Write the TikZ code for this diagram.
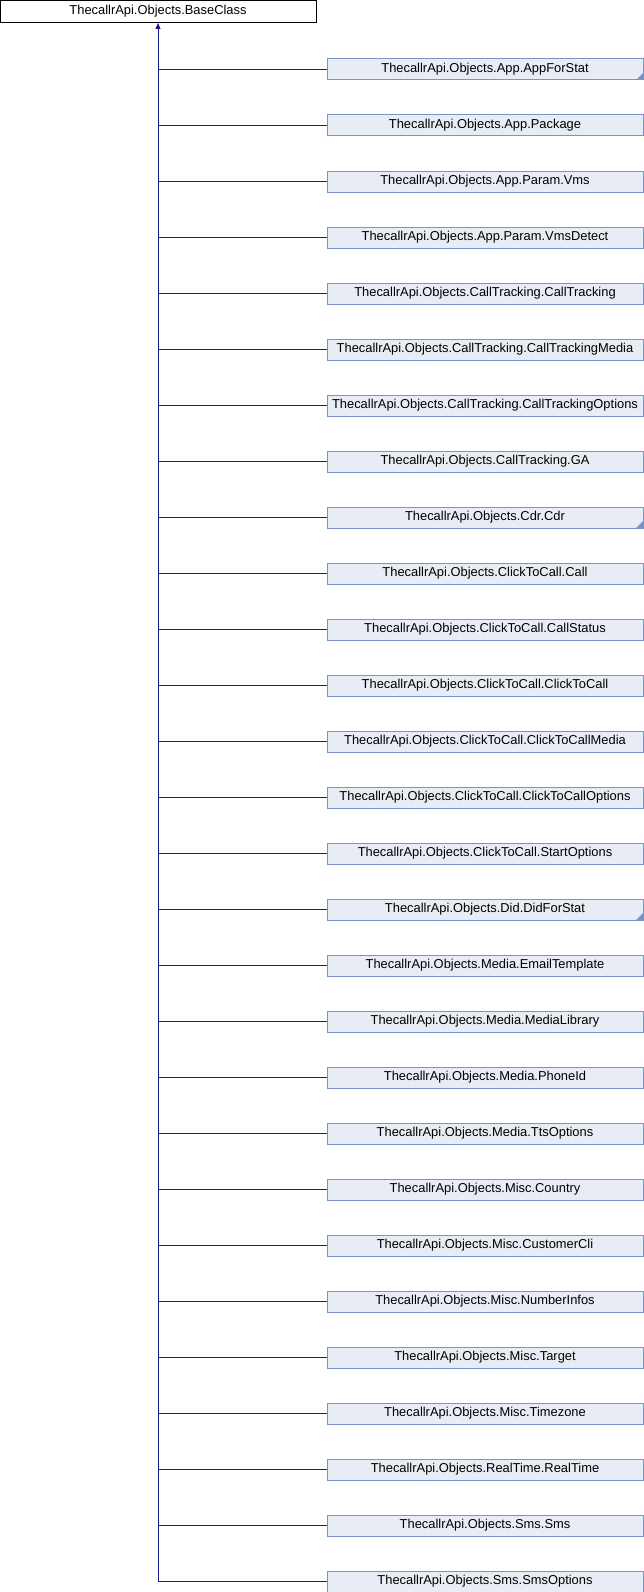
\documentclass[tikz,border=0pt]{standalone}
\usepackage{fontspec}
\setsansfont{Liberation Sans}
\usepackage{tikz}
\usetikzlibrary{arrows.meta}
\definecolor{boxfill}{HTML}{E8ECF5}
\definecolor{boxline}{HTML}{7B93C7}
\definecolor{linkblue}{HTML}{191990}
\tikzset{
  classnode/.style = {rectangle, draw=black, fill=white, line width=1pt, inner sep=0pt, minimum width=316pt, minimum height=22pt, font=\sffamily\fontsize{12.9}{14}\selectfont},
  subnode/.style = {classnode, draw=boxline, fill=boxfill, minimum height=21pt},
  inherit/.style = {draw=linkblue, line width=1pt},
}
\begin{document}
\begin{tikzpicture}[x=1pt, y=-1pt]
\useasboundingbox (0,0) rectangle (644,1592);
\node [classnode] (base) at (158,11.5) {ThecallrApi.Objects.BaseClass};
% derived classes
\foreach \cname [count=\i] in {App.AppForStat, App.Package, App.Param.Vms, App.Param.VmsDetect,
  CallTracking.CallTracking, CallTracking.CallTrackingMedia, CallTracking.CallTrackingOptions,
  CallTracking.GA, Cdr.Cdr, ClickToCall.Call, ClickToCall.CallStatus, ClickToCall.ClickToCall,
  ClickToCall.ClickToCallMedia, ClickToCall.ClickToCallOptions, ClickToCall.StartOptions,
  Did.DidForStat, Media.EmailTemplate, Media.MediaLibrary, Media.PhoneId, Media.TtsOptions,
  Misc.Country, Misc.CustomerCli, Misc.NumberInfos, Misc.Target, Misc.Timezone,
  RealTime.RealTime, Sms.Sms, Sms.SmsOptions}
{
  \node [subnode] (c\i) at (485,{69.5+56*(\i-1)}) {ThecallrApi.Objects.\cname};
  \draw [inherit] (c\i.west) -- (c\i.west -| base.south);
}
% more children marks
\foreach \i in {1,9,16}
  \fill [boxline] ([xshift=-0.5pt,yshift=0.5pt]c\i.south east) -- ++(0,-7) -- ++(-7,7) -- cycle;
\draw [inherit, -{Triangle[length=6pt,width=5pt]}] (c28.west -| base.south) -- (base.south);
\end{tikzpicture}
\end{document}
